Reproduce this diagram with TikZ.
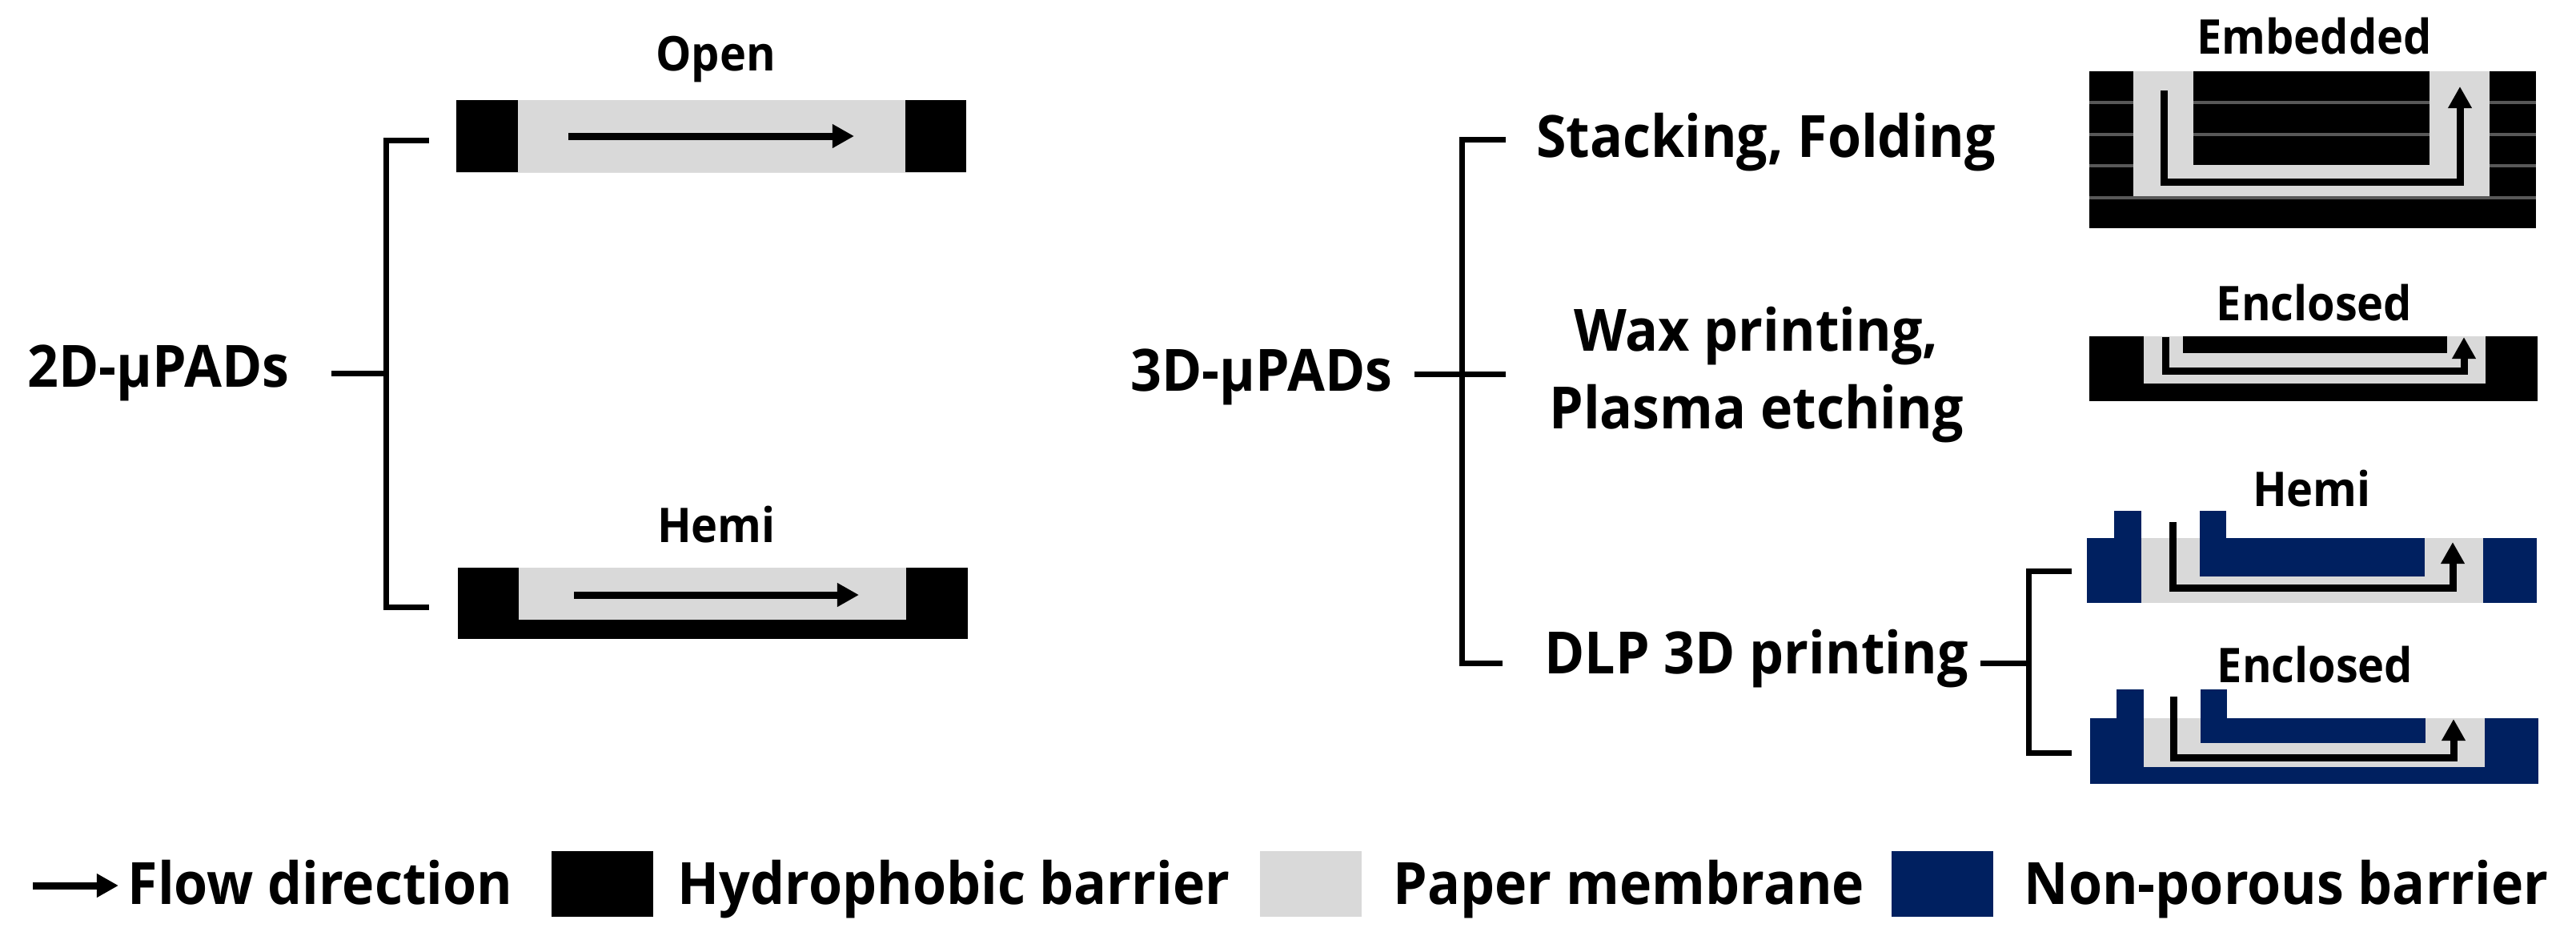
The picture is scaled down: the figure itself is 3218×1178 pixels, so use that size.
\documentclass[tikz,border=0pt]{standalone}
\usepackage{fontspec}
\setmainfont{Open Sans}[FakeStretch=0.935]
\usetikzlibrary{arrows.meta, positioning}
\definecolor{paperc}{HTML}{D9D9D9}
\definecolor{navyc}{HTML}{002060}
\definecolor{seamc}{HTML}{585858}
\tikzset{
	hydro/.style={fill=black},
	paper/.style={fill=paperc},
	nonpor/.style={fill=navyc},
	seam/.style={draw=seamc, line width=0.035cm},
	bracket/.style={draw=black, line width=0.07cm},
	flow/.style={draw=black, line width=0.09cm, -{Triangle[length=0.27cm,width=0.28cm]}},
	biglab/.style={font=\fontsize{20.7}{27.5}\selectfont\bfseries, inner sep=0pt, align=center},
	smalllab/.style={font=\fontsize{17}{20}\selectfont\bfseries, inner sep=0pt},
	swatch/.style={minimum width=1.27cm, minimum height=0.82cm, inner sep=0pt}
}
\newcommand{\padFlat}[8]{%
	\fill[paper] (#1,#2) rectangle (#3,#4);
	\fill[#5] (#1,#2) rectangle (#6,#4);
	\fill[#5] (#7,#2) rectangle (#3,#4);
	\fill[#5] (#1,#8) rectangle (#3,#4);}
\newcommand{\flowU}[5]{%
	\draw[flow] (#1,#2) -- (#1,#3) -- (#4,#3) -- (#4,#5);}
\newcommand{\tabsNP}[5]{%
	\fill[nonpor] (#1,#3) rectangle (#2,#5);
	\fill[nonpor] (#4,#3) rectangle ({#4+33},#5);}
\begin{document}
\begin{tikzpicture}[x=0.01cm, y=-0.01cm]
	\useasboundingbox (0,0) rectangle (3218,1178);
	% left group
	\node[biglab, anchor=base] (lab2d) at (198,483) {2D-µPADs};
	\node[smalllab, anchor=base] (labopen) at (894,88) {Open};
	\node[smalllab, anchor=base] (labhemi) at (895,677) {Hemi};
	\coordinate (stem2d) at (414,466);
	\coordinate (bar2d) at (482,466);
	\coordinate (top2d) at (536,175);
	\coordinate (bot2d) at (536,758);
	\draw[bracket] (stem2d) -- (bar2d);
	\draw[bracket] (top2d) -- (top2d -| bar2d) -- (bot2d -| bar2d) -- (bot2d);
	\padFlat{570}{125}{1207}{215}{hydro}{647}{1131}{215}
	\draw[flow] (710,170) -- (1067,170);
	\padFlat{572}{709}{1209}{798}{hydro}{648}{1132}{774}
	\draw[flow] (717,743) -- (1073,743);
	% middle group
	\node[biglab, anchor=base] (lab3d) at (1576,488) {3D-µPADs};
	\node[biglab, anchor=base] (labstack) at (2206,196) {Stacking, Folding};
	\node[biglab] (labwax) at (2194,468) {Wax printing,\\Plasma etching};
	\node[biglab, anchor=base] (labdlp) at (2194,841) {DLP 3D printing};
	\coordinate (stem3d) at (1767,467);
	\coordinate (bar3d) at (1826,467);
	\coordinate (tip3d) at (1881,467);
	\coordinate (top3d) at (1881,174);
	\coordinate (bot3d) at (1877,828);
	\draw[bracket] (stem3d) -- (tip3d);
	\draw[bracket] (top3d) -- (top3d -| bar3d) -- (bot3d -| bar3d) -- (bot3d);
	\coordinate (stemdlp) at (2474,828);
	\coordinate (bardlp) at (2534,828);
	\coordinate (topdlp) at (2588,713);
	\coordinate (botdlp) at (2588,940);
	\draw[bracket] (stemdlp) -- (bardlp);
	\draw[bracket] (topdlp) -- (topdlp -| bardlp) -- (botdlp -| bardlp) -- (botdlp);
	% embedded
	\node[smalllab, anchor=base] (labemb) at (2891,67) {Embedded};
	\padFlat{2610}{89}{3168}{285}{hydro}{2665}{3110}{247}
	\fill[hydro] (2740,89) rectangle (3035,206);
	\foreach \yy in {128,168,207}{
		\draw[seam] (2610,\yy) -- (2665,\yy);
		\draw[seam] (3110,\yy) -- (3168,\yy);}
	\draw[seam] (2740,128) -- (3035,128);
	\draw[seam] (2740,168) -- (3035,168);
	\draw[seam] (2610,247) -- (3168,247);
	\flowU{2703}{113}{227}{3073}{108}
	% enclosed, black
	\node[smalllab, anchor=base] (labencb) at (2891,400) {Enclosed};
	\padFlat{2610}{420}{3170}{501}{hydro}{2678}{3105}{479}
	\fill[hydro] (2727,420) rectangle (3057,441);
	\flowU{2705}{421}{463}{3078}{421}
	% hemi, navy
	\node[smalllab, anchor=base] (labhemin) at (2888,632) {Hemi};
	\fill[paper] (2607,672) rectangle (3169,753);
	\fill[nonpor] (2607,672) rectangle (2675,753);
	\fill[nonpor] (3102,672) rectangle (3169,753);
	\fill[nonpor] (2748,672) rectangle (3029,720);
	\tabsNP{2641}{2675}{638}{2748}{672}
	\flowU{2714}{652}{734}{3064}{677}
	% enclosed, navy
	\node[smalllab, anchor=base] (labencn) at (2892,852) {Enclosed};
	\padFlat{2611}{897}{3171}{979}{nonpor}{2678}{3104}{958}
	\fill[nonpor] (2749,897) rectangle (3030,928);
	\tabsNP{2644}{2678}{861}{2749}{897}
	\flowU{2715}{870}{946}{3065}{898}
	% legend
	\coordinate (legstart) at (41,1106);
	\node[biglab, anchor=base west] (legflow) at (159,1129) {Flow direction};
	\draw[flow] (legstart) -- ([xshift=-0.11cm]legflow.west |- legstart);
	\node[swatch, fill=black, anchor=west] (swhydro) at (688,1104) {};
	\node[biglab, anchor=base west] (leghydro) at (846,1129) {Hydrophobic barrier};
	\node[swatch, fill=paperc, anchor=west] (swpaper) at (1573,1104) {};
	\node[biglab, anchor=base west] (legpaper) at (1740,1129) {Paper membrane};
	\node[swatch, fill=navyc, anchor=west] (swnavy) at (2362,1104) {};
	\node[biglab, anchor=base west] (legnavy) at (2528,1129) {Non-porous barrier};
\end{tikzpicture}
\end{document}
